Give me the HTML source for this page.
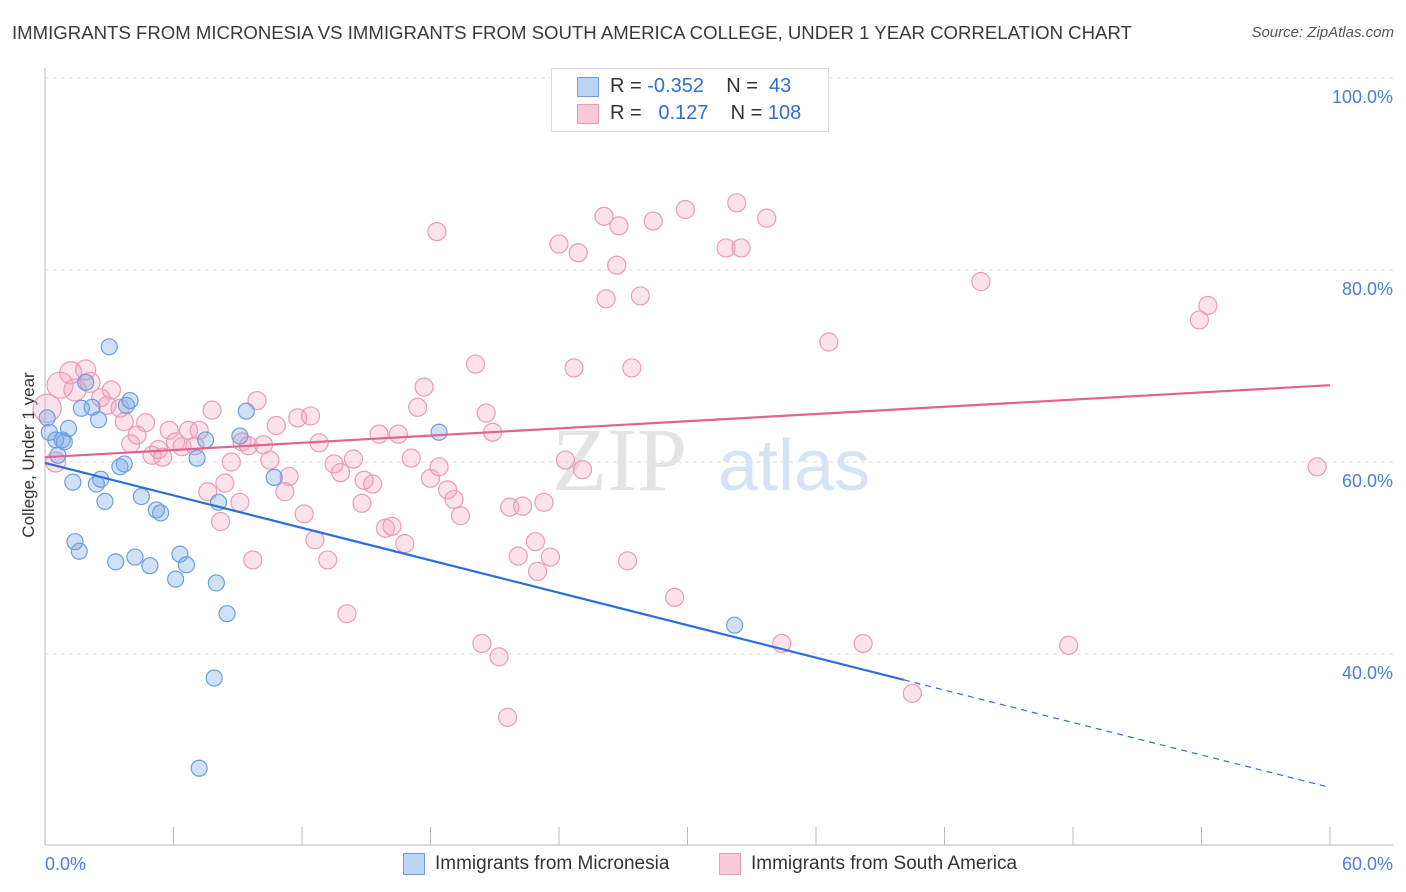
<!DOCTYPE html>
<html><head><meta charset="utf-8">
<style>
body{margin:0;background:#fff;font-family:"Liberation Sans",sans-serif;}
#wrap{position:relative;width:1406px;height:892px;overflow:hidden;}
.t{position:absolute;white-space:nowrap;}
</style></head>
<body>
<div id="wrap">
<div class="t" style="left:12px;top:22px;font-size:18.6px;color:#3a3a3a;">IMMIGRANTS FROM MICRONESIA VS IMMIGRANTS FROM SOUTH AMERICA COLLEGE, UNDER 1 YEAR CORRELATION CHART</div>
<div class="t" style="right:12px;top:24px;font-size:15px;color:#555;font-style:italic;">Source: ZipAtlas.com</div>
<svg id="svg" width="1406" height="892" style="position:absolute;left:0;top:0"></svg>
</div>
<script>
const blueX=[0.1,0.2,0.5,0.6,0.8,0.9,1.1,1.3,1.4,1.6,1.7,1.9,2.2,2.4,2.5,2.6,2.8,3.0,3.3,3.5,3.7,3.8,3.97,4.2,4.5,4.9,5.2,5.4,6.1,6.3,6.6,7.1,7.2,7.5,7.9,8.0,8.1,8.5,9.1,9.4,10.7,18.4,32.2];
const blueY=[64.6,63.1,62.3,60.7,62.3,62.1,63.5,57.9,51.7,50.7,65.6,68.3,65.7,57.7,64.4,58.2,55.9,72.0,49.6,59.5,59.8,65.9,66.4,50.1,56.4,49.2,55.0,54.7,47.8,50.4,49.3,60.4,28.1,62.3,37.5,47.4,55.8,44.2,62.7,65.3,58.4,63.1,43.0];
const pinkX=[0.1,0.5,0.7,1.2,1.4,1.9,2.1,2.6,2.9,3.1,3.5,3.7,4.0,4.3,4.7,5.0,5.3,5.5,5.8,6.1,6.4,6.7,7.0,7.2,7.6,7.8,8.2,8.4,8.7,9.1,9.2,9.5,9.7,9.9,10.2,10.5,10.8,11.2,11.4,11.8,12.1,12.4,12.6,12.8,13.2,13.5,13.8,14.1,14.4,14.8,14.9,15.3,15.6,15.9,16.2,16.5,16.8,17.1,17.4,17.7,18.0,18.3,18.4,18.8,19.1,19.4,20.1,20.6,20.9,20.4,21.2,21.6,21.7,22.1,22.3,22.9,23.0,23.3,23.6,24.0,24.3,24.7,24.9,25.1,26.1,26.2,26.7,26.8,27.2,27.4,27.8,28.4,29.4,29.9,31.8,32.3,32.5,33.7,34.4,35.3,36.6,38.2,40.5,43.7,47.8,53.9,54.3,59.4];
const pinkY=[65.6,60.0,68.0,69.3,67.5,69.6,68.3,66.7,65.9,67.5,65.6,64.2,61.9,62.8,64.1,60.7,61.3,60.5,63.3,62.1,61.6,63.3,61.7,63.3,56.9,65.4,53.8,57.8,60.0,55.8,62.1,61.7,49.8,66.4,61.8,60.2,63.8,56.9,58.5,64.6,54.6,64.8,51.9,62.0,49.8,59.8,58.9,44.2,60.3,55.7,58.1,57.7,62.9,53.1,53.3,62.9,51.5,60.4,65.7,67.8,58.3,84.0,59.5,57.1,56.1,54.4,70.2,65.1,63.1,41.1,39.7,33.4,55.3,50.2,55.4,51.7,48.6,55.8,50.1,82.7,60.2,69.8,81.8,59.2,85.6,77.0,80.5,84.6,49.7,69.8,77.3,85.1,45.9,86.3,82.3,87.0,82.3,85.4,41.1,99.8,72.5,41.1,35.9,78.8,40.9,74.8,76.3,59.5];
const pinkR=[14,10,13,11,11,10,10,9,9,9,9,9,9,9,9,9,9,9,9,9,9,9,9,9,9,9,9,9,9,9,9,9,9,9,9,9,9,9,9,9,9,9,9,9,9,9,9,9,9,9,9,9,9,9,9,9,9,9,9,9,9,9,9,9,9,9,9,9,9,9,9,9,9,9,9,9,9,9,9,9,9,9,9,9,9,9,9,9,9,9,9,9,9,9,9,9,9,9,9,9,9,9,9,9,9,9,9,9];
const blueTrend=[59.9,26.1];
const blueSolidEnd=40.1;
const pinkTrend=[60.5,68.0];
const yTicks=[100,80,60,40];
const xTickLabels=["0.0%","60.0%"];

const NS="http://www.w3.org/2000/svg";
const svg=document.getElementById('svg');
const X0=45,X1=1330,Y100=78,PX=9.6;
const sx=v=>X0+(v/60)*(X1-X0);
const sy=v=>Y100+(100-v)*PX;
function mk(tag,attrs,parent){const e=document.createElementNS(NS,tag);for(const k in attrs)e.setAttribute(k,attrs[k]);(parent||svg).appendChild(e);return e;}

yTicks.forEach(t=>{
  const g=mk('line',{x1:X0,x2:1393,y1:sy(t),y2:sy(t),stroke:'#ddd','stroke-dasharray':'4,4'});
  
  
  const tx=mk('text',{x:1393,y:sy(t)+25,'text-anchor':'end','font-size':18,fill:'#4a7fd8','font-family':'Liberation Sans'});
  tx.textContent=t.toFixed(1)+'%';
  
  
});
let ax=mk('line',{x1:X0,x2:1393,y1:845,y2:845,stroke:'#bbb'});


let ay=mk('line',{x1:X0,x2:X0,y1:68,y2:845,stroke:'#bbb'});


for(let i=0;i<=10;i++){
  const tk=mk('line',{x1:sx(i*6),x2:sx(i*6),y1:827,y2:845,stroke:'#bbb'});
  
  
}
[[45,'start',0],[1393,'end',1]].forEach(([x,a,i])=>{
  const t=mk('text',{x:x,y:870,'text-anchor':a,'font-size':18,fill:'#4a7fd8','font-family':'Liberation Sans'});
  t.textContent=xTickLabels[i];
  
  
});
let yt=mk('text',{x:34,y:455,'text-anchor':'middle','font-size':17,fill:'#333',transform:'rotate(-90 34 455)','font-family':'Liberation Sans'});
yt.textContent='College, Under 1 year';


let wm=mk('text',{x:552,y:490,'font-size':90,fill:'#e4e4e4','font-family':'Liberation Serif'});
wm.textContent='ZIP';


let wm2=mk('text',{x:718,y:490,'font-size':72,fill:'#d6e3f5','font-family':'Liberation Sans'});
wm2.textContent='atlas';



pinkX.forEach((x,i)=>{
  const c=mk('circle',{cx:sx(x),cy:sy(pinkY[i]),r:pinkR[i],fill:'rgba(244,160,188,0.3)',stroke:'#eb9ab8','stroke-width':1.2});
  
  
});
blueX.forEach((x,i)=>{
  const c=mk('circle',{cx:sx(x),cy:sy(blueY[i]),r:8,fill:'rgba(120,165,230,0.35)',stroke:'#6a9fe0','stroke-width':1.2});
  
  
});
const by=x=>blueTrend[0]+(blueTrend[1]-blueTrend[0])*x/60;
let bl=mk('line',{x1:sx(0),y1:sy(by(0)),x2:sx(blueSolidEnd),y2:sy(by(blueSolidEnd)),stroke:'#2d6fd8','stroke-width':2.2});


let bd=mk('line',{x1:sx(blueSolidEnd),y1:sy(by(blueSolidEnd)),x2:sx(60),y2:sy(by(60)),stroke:'#2d6fd8','stroke-width':1.2,'stroke-dasharray':'6,5'});


let pl=mk('line',{x1:sx(0),y1:sy(pinkTrend[0]),x2:sx(60),y2:sy(pinkTrend[1]),stroke:'#e0648e','stroke-width':2.2});


</script>
<div class="t" style="left:551px;top:68px;width:276px;height:62px;border:1px solid #ddd;background:#fff;">
 <div class="t" style="left:25px;top:8px;width:20px;height:18px;background:#bcd3f4;border:1px solid #6a9fe0;"></div>
 <div class="t" style="left:58px;top:6px;font-size:20px;color:#333;">R = <span style="color:#2d6fd8">-0.352</span>&nbsp;&nbsp;&nbsp; N = &nbsp;<span style="color:#2d6fd8">43</span></div>
 <div class="t" style="left:25px;top:35px;width:20px;height:18px;background:#f8cad9;border:1px solid #eb9ab8;"></div>
 <div class="t" style="left:58px;top:33px;font-size:20px;color:#333;">R = &nbsp;&nbsp;<span style="color:#2d6fd8">0.127</span>&nbsp;&nbsp;&nbsp; N = <span style="color:#2d6fd8">108</span></div>
</div>
<div class="t" style="left:403px;top:853px;width:20px;height:20px;background:#bcd3f4;border:1px solid #6a9fe0;"></div>
<div class="t" style="left:435px;top:853px;font-size:19px;color:#333;">Immigrants from Micronesia</div>
<div class="t" style="left:719px;top:853px;width:20px;height:20px;background:#f8cad9;border:1px solid #eb9ab8;"></div>
<div class="t" style="left:751px;top:853px;font-size:19px;color:#333;">Immigrants from South America</div>
</body></html>
